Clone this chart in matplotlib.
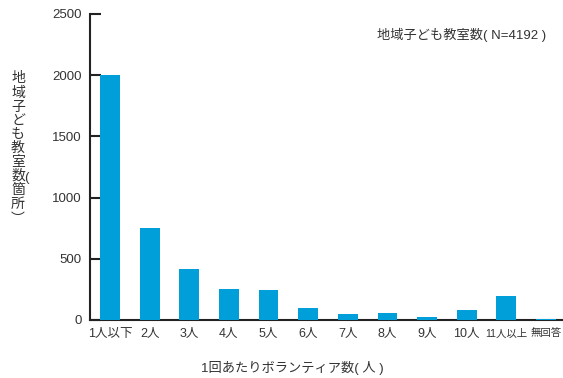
import matplotlib
matplotlib.use('Agg')
from matplotlib import pyplot as plt

plt.rcParams['font.family'] = ['Liberation Sans', 'Noto Sans CJK JP']

# volunteers per session vs number of classrooms
categories = ['1人以下', '2人', '3人', '4人', '5人', '6人', '7人', '8人', '9人', '10人', '11人以上', '無回答']
counts = [2005, 750, 415, 250, 242, 102, 53, 61, 25, 85, 200, 8]
yticks = [0, 500, 1000, 1500, 2000, 2500]

text_color = '#333333'
bar_color = '#009FDA'

fig = plt.figure(figsize=(5.63, 3.78), dpi=100)
ax = fig.add_axes([90/563, 58/378, 473/563, 306/378])

x = list(range(len(categories)))
ax.bar(x, counts, width=0.5, color=bar_color, zorder=3)

ax.set_xlim(-0.505, 11.43)
ax.set_ylim(0, 2500)
ax.set_yticks(yticks)
ax.set_xticks(x)
ax.set_xticklabels(categories)

ax.tick_params(axis='y', direction='in', length=8, width=1.5, color='#222222',
               pad=6, labelsize=9.5, labelcolor=text_color)
ax.tick_params(axis='x', length=0, pad=6, labelsize=9, labelcolor=text_color)

# the two long labels are squeezed smaller
for lbl in ax.get_xticklabels()[-2:]:
    lbl.set_fontsize(7.5)

for side in ['top', 'right']:
    ax.spines[side].set_visible(False)
ax.spines['left'].set_color('#222222')
ax.spines['left'].set_linewidth(1.5)
ax.spines['bottom'].set_color('#222222')
ax.spines['bottom'].set_linewidth(1.5)

# vertical y label, one character per row
ylabel_chars = ['地', '域', '子', 'ど', 'も', '教', '室', '数', '箇', '所']
row_y = [78, 93, 107, 121, 134, 148, 162, 176, 190, 204]
for ch, yy in zip(ylabel_chars, row_y):
    fig.text(18/563, 1 - yy/378, ch, fontsize=10, color=text_color,
             ha='center', va='center')
fig.text(26/563, 1 - 178/378, '(', fontsize=9.5, color=text_color,
         ha='center', va='center')
fig.text(18/563, 1 - 219/378, '︶', fontsize=10, color=text_color,
         ha='center', va='center', family='Noto Sans CJK JP')

fig.text(292/563, 1 - 368/378, '1回あたりボランティア数( 人 )', fontsize=9.5,
         color=text_color, ha='center', va='center')

fig.text(377/563, 1 - 35/378, '地域子ども教室数( N=4192 )', fontsize=9.5,
         color=text_color, ha='left', va='center')

plt.savefig('out.png', dpi=100)
